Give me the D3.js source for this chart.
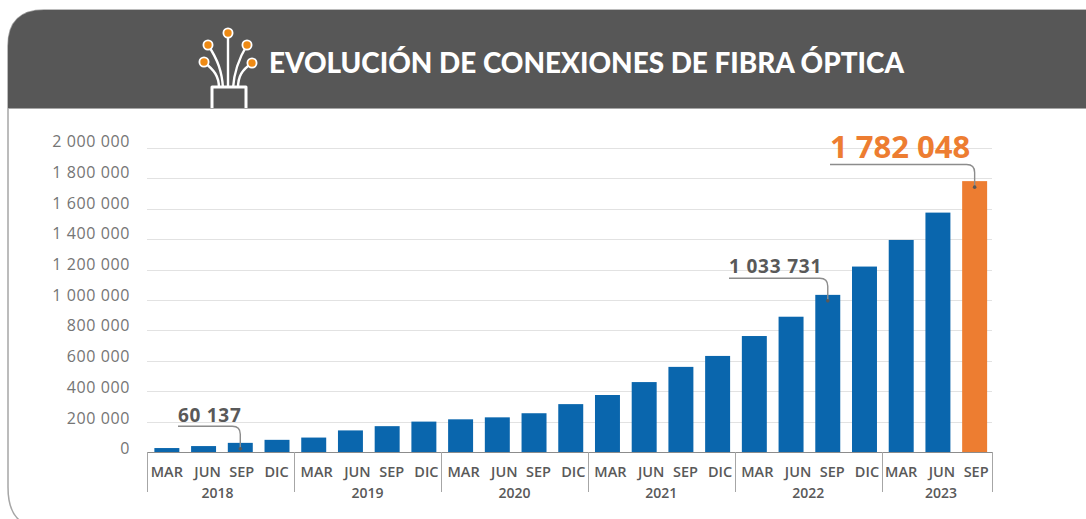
<!DOCTYPE html>
<html>
<head>
<meta charset="utf-8">
<script src="https://cdn.jsdelivr.net/npm/d3@7"></script>
<style>
	html, body { margin: 0; padding: 0; background: #fff; overflow: hidden; }
	svg { display: block; }
	text { font-family: "Open Sans", sans-serif; }
</style>
</head>
<body>
<div id="chart"></div>
<script>
// chart data
const years = ["2018", "2019", "2020", "2021", "2022", "2023"];
const quarters = [
	"MAR", "JUN", "SEP", "DIC",
	"MAR", "JUN", "SEP", "DIC",
	"MAR", "JUN", "SEP", "DIC",
	"MAR", "JUN", "SEP", "DIC",
	"MAR", "JUN", "SEP", "DIC",
	"MAR", "JUN", "SEP"
];
const quartersPerYear = [4, 4, 4, 4, 4, 3];
const connections = [
	26000, 39000, 60137, 80000,
	95000, 142000, 170000, 200000,
	215000, 228000, 255000, 315000,
	375000, 460000, 560000, 632000,
	763000, 890000, 1033731, 1220000,
	1395000, 1575000, 1782048
];
const yTicks = [0, 200000, 400000, 600000, 800000, 1000000, 1200000, 1400000, 1600000, 1800000, 2000000];
const title = "EVOLUCIÓN DE CONEXIONES DE FIBRA ÓPTICA";
const callouts = [
	{index: 2, label: "60 137"},
	{index: 18, label: "1 033 731"},
	{index: 22, label: "1 782 048"}
];

const width = 1086, height = 519;
const plot = {left: 147, right: 992, top: 148, bottom: 452};
const grey = "#595959";
const blue = "#0A66AD";
const orange = "#ED7D31";

// spaces as thousands separator
const fmt = d => d3.format(",")(d).replace(/,/g, " ");

const svg = d3.select("#chart").append("svg")
	.attr("width", width)
	.attr("height", height);

// card outline + header
const r = 36;
svg.append("path")
	.attr("d", `M${width + 5},10 H${8 + r} Q8,10 8,${10 + r} V${height - 32} Q8,${height - 2} 26,${height + 5}`)
	.attr("fill", "none")
	.attr("stroke", "#a6a6a6")
	.attr("stroke-width", 1.5);

svg.append("path")
	.attr("d", `M${width + 5},10 H${8 + r} Q8,10 8,${10 + r} V108 H${width + 5} Z`)
	.attr("fill", "#575757");

svg.append("line")
	.attr("x1", 8).attr("x2", width)
	.attr("y1", 108.5).attr("y2", 108.5)
	.attr("stroke", "#a6a6a6");

// fibre icon
const icon = svg.append("g").attr("class", "icon");
const strands = [
	{d: "M219,88 C219,76 214,70 204,62", cx: 204, cy: 62},
	{d: "M223,88 C222,72 218,60 208,45", cx: 208, cy: 45},
	{d: "M228,88 L228,33", cx: 228, cy: 33},
	{d: "M233,88 C234,72 238,60 247,45", cx: 247, cy: 45},
	{d: "M238,88 C238,76 242,70 252,63", cx: 252, cy: 63}
];
icon.selectAll("path.strand").data(strands).join("path")
	.attr("class", "strand")
	.attr("d", d => d.d)
	.attr("fill", "none")
	.attr("stroke", "#fff")
	.attr("stroke-width", 2.4);
icon.selectAll("circle").data(strands).join("circle")
	.attr("cx", d => d.cx).attr("cy", d => d.cy)
	.attr("r", 4.6)
	.attr("fill", "#EE8A14")
	.attr("stroke", "#fff")
	.attr("stroke-width", 1.8);
icon.append("path")
	.attr("d", "M212,108 V87 H246 V108")
	.attr("fill", "none")
	.attr("stroke", "#fff")
	.attr("stroke-width", 3)
	.attr("stroke-linejoin", "round");

svg.append("text")
	.attr("x", 269).attr("y", 73)
	.attr("fill", "#fff")
	.attr("font-size", 28)
	.attr("font-weight", 900)
	.style("font-family", "Lato, sans-serif")
	.attr("textLength", 635)
	.attr("lengthAdjust", "spacingAndGlyphs")
	.text(title);

// scales
const x = d3.scaleBand()
	.domain(d3.range(connections.length))
	.range([148.5, 993])
	.paddingInner(0.32)
	.paddingOuter(0.16);

const y = d3.scaleLinear()
	.domain([0, 2000000])
	.range([plot.bottom, plot.top]);

// the tick labels run on a slightly wider pitch than the gridlines
const yLabel = d3.scaleLinear()
	.domain([0, 2000000])
	.range([450, 143]);

// gridlines
svg.append("g").selectAll("line")
	.data(yTicks.filter(d => d > 0))
	.join("line")
	.attr("x1", plot.left).attr("x2", plot.right)
	.attr("y1", d => Math.round(y(d)) + 0.5).attr("y2", d => Math.round(y(d)) + 0.5)
	.attr("stroke", "#e2e2e2");

// y labels
svg.append("g").selectAll("text")
	.data(yTicks)
	.join("text")
	.attr("x", 130)
	.attr("y", d => yLabel(d))
	.attr("text-anchor", "end")
	.attr("dominant-baseline", "middle")
	.attr("fill", "#757575")
	.attr("font-size", 16)
	.attr("letter-spacing", 0.6)
	.text(fmt);

// bars
svg.append("g").selectAll("rect")
	.data(connections)
	.join("rect")
	.attr("x", (d, i) => x(i))
	.attr("y", d => y(d))
	.attr("width", x.bandwidth())
	.attr("height", d => y(0) - y(d))
	.attr("fill", (d, i) => i === connections.length - 1 ? orange : blue);

// axis baseline
svg.append("line")
	.attr("x1", plot.left).attr("x2", plot.right)
	.attr("y1", plot.bottom + 0.5).attr("y2", plot.bottom + 0.5)
	.attr("stroke", "#8c8c8c");

// quarter labels are not quite centred under their bars
const quarterShift = {MAR: 3, JUN: 7, SEP: 4.5, DIC: 2.5};
const edgeYear = i => i < 4 || i >= 20;

svg.append("g").selectAll("text")
	.data(quarters)
	.join("text")
	.attr("x", (d, i) => x(i) + x.bandwidth() / 2 + quarterShift[d] - (edgeYear(i) ? 3 : 0))
	.attr("y", 477)
	.attr("text-anchor", "middle")
	.attr("fill", grey)
	.attr("font-size", 14.5)
	.attr("font-weight", 600)
	.text(d => d);

// year groups
const groupStep = (plot.right - plot.left) / quarters.length;
const yearShift = [-3, 0, 0, 0, 0, 4];
let start = 0;
const yearGroups = years.map((year, i) => {
	const g = {
		year: year,
		shift: yearShift[i],
		x0: plot.left + start * groupStep,
		x1: plot.left + (start + quartersPerYear[i]) * groupStep
	};
	start += quartersPerYear[i];
	return g;
});

svg.append("g").selectAll("line")
	.data([plot.left].concat(yearGroups.map(d => d.x1)))
	.join("line")
	.attr("x1", d => Math.round(d) + 0.5).attr("x2", d => Math.round(d) + 0.5)
	.attr("y1", plot.bottom).attr("y2", 492)
	.attr("stroke", "#a6a6a6");

svg.append("g").selectAll("text")
	.data(yearGroups)
	.join("text")
	.attr("x", d => (d.x0 + d.x1) / 2 + d.shift)
	.attr("y", 498)
	.attr("text-anchor", "middle")
	.attr("fill", grey)
	.attr("font-size", 14)
	.attr("font-weight", 600)
	.text(d => d.year);

// callouts: label sits on a leader that bends down into the bar
const calloutStyle = [
	{size: 19, color: grey, start: 178, gap: 4.6, spacing: 0.7},
	{size: 19, color: grey, start: 729, gap: 5, spacing: 0.8},
	{size: 31, color: orange, start: 830, gap: 6.6, spacing: 0}
];
callouts.forEach((c, i) => {
	const s = calloutStyle[i];
	const cx = x(c.index) + x.bandwidth() / 2;
	const top = y(connections[c.index]);
	const lineY = top - 16.6;
	svg.append("path")
		.attr("d", `M${s.start},${lineY} H${cx - 8} Q${cx},${lineY} ${cx},${lineY + 8} V${top + 6}`)
		.attr("fill", "none")
		.attr("stroke", "#8c8c8c")
		.attr("stroke-width", 1.4);
	svg.append("circle")
		.attr("cx", cx).attr("cy", top + 6)
		.attr("r", 1.8)
		.attr("fill", grey);
	svg.append("text")
		.attr("x", s.start)
		.attr("y", lineY - s.gap)
		.attr("fill", s.color)
		.attr("font-size", s.size)
		.attr("font-weight", 700)
		.attr("letter-spacing", s.spacing)
		.text(c.label);
});
</script>
</body>
</html>
